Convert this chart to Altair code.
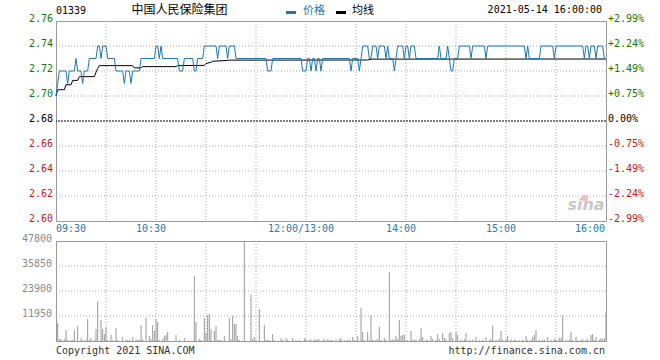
import altair as alt
import pandas as pd

PREV_CLOSE = 2.68

# ---- price (runs of equal price: start minute, price) ----
run_start = [0, 1, 2, 7, 8, 12, 13, 16, 17, 20, 25, 27, 28, 31, 36, 41, 42, 45, 46, 51,
             60, 62, 63, 64, 74, 77, 83, 85, 89, 97, 98, 103, 104, 108, 127, 130, 148, 151,
             153, 154, 156, 157, 159, 160, 177, 178, 182, 183, 184, 188, 190, 193, 194, 198,
             199, 200, 203, 204, 205, 209, 210, 212, 213, 216, 230, 231, 235, 236, 237, 239,
             242, 249, 250, 258, 259, 282, 283, 284, 291, 299, 300, 317, 318, 320, 321, 324,
             325, 329]
run_price = [2.70, 2.71, 2.72, 2.71, 2.72, 2.73, 2.72, 2.71, 2.72, 2.73, 2.74, 2.73, 2.74, 2.73,
             2.72, 2.71, 2.72, 2.71, 2.72, 2.73, 2.74, 2.73, 2.74, 2.73, 2.72, 2.73, 2.72, 2.73,
             2.74, 2.73, 2.74, 2.73, 2.74, 2.73, 2.72, 2.73, 2.72, 2.73, 2.72, 2.73, 2.72, 2.73,
             2.72, 2.73, 2.72, 2.73, 2.72, 2.73, 2.74, 2.73, 2.74, 2.73, 2.74, 2.73, 2.74, 2.73,
             2.72, 2.73, 2.74, 2.73, 2.74, 2.73, 2.74, 2.73, 2.74, 2.73, 2.74, 2.73, 2.72, 2.73,
             2.74, 2.73, 2.74, 2.73, 2.74, 2.73, 2.74, 2.73, 2.74, 2.73, 2.74, 2.73, 2.74, 2.73,
             2.74, 2.73, 2.74, 2.73]
LAST_MINUTE = 330

# ---- average price line ----
avg_minutes = [0, 1, 5, 6, 9, 10, 13, 14, 23, 24, 25, 26, 46, 47, 51, 52, 72, 73, 89, 90, 93,
               94, 103, 104, 187, 189, 330]
avg_values = [2.700, 2.705, 2.705, 2.709, 2.709, 2.7125, 2.7125, 2.7155, 2.7155, 2.719, 2.722,
              2.7243, 2.7243, 2.7225, 2.7225, 2.7235, 2.7235, 2.7243, 2.7245, 2.726, 2.727,
              2.7278, 2.7285, 2.7287, 2.7288, 2.7295, 2.7296]

# ---- volume ----
vol_minutes = [1, 2, 3, 5, 6, 7, 9, 10, 11, 13, 15, 16, 18, 19, 20, 21, 23, 24, 25, 27, 28, 29,
               30, 31, 33, 34, 36, 37, 40, 42, 43, 44, 46, 48, 49, 50, 51, 52, 54, 56, 57, 58,
               59, 60, 61, 62, 64, 65, 66, 67, 72, 74, 77, 83, 84, 86, 87, 89, 90, 91, 92, 93,
               95, 96, 97, 98, 99, 101, 104, 105, 106, 107, 108, 109, 110, 113, 117, 118, 119,
               120, 122, 125, 126, 127, 128, 130, 131, 135, 136, 138, 139, 142, 144, 146, 149,
               150, 152, 153, 155, 156, 157, 158, 160, 161, 163, 164, 165, 166, 168, 170, 171,
               173, 175, 176, 178, 179, 181, 183, 184, 185, 187, 188, 189, 190, 192, 193, 194,
               195, 197, 198, 200, 201, 202, 203, 204, 205, 206, 207, 208, 209, 211, 213, 214,
               215, 216, 218, 219, 220, 222, 223, 225, 226, 228, 229, 230, 232, 233, 234, 236,
               237, 238, 240, 241, 243, 245, 246, 248, 250, 252, 254, 256, 258, 260, 261, 262,
               264, 266, 267, 268, 270, 271, 273, 275, 276, 278, 280, 282, 283, 285, 286, 287,
               288, 290, 292, 293, 295, 297, 299, 300, 302, 303, 304, 306, 308, 309, 310, 312,
               313, 315, 316, 318, 319, 321, 322, 323, 324, 326, 327, 328, 329, 330]
vol_values = [8600, 950, 950, 900, 5300, 500, 500, 500, 5300, 7200, 1400, 500, 700, 10500, 500,
              1400, 500, 5700, 19100, 10000, 5700, 3300, 6700, 500, 2900, 500, 6200, 500, 1900,
              700, 500, 500, 1900, 700, 500, 500, 7600, 900, 11000, 2400, 900, 7600, 4800, 10500,
              9100, 500, 900, 2400, 2900, 4300, 2900, 500, 1400, 31100, 9100, 900, 500, 11000,
              3800, 12400, 12900, 5700, 4800, 7200, 500, 500, 500, 2400, 11000, 900, 12000, 8100,
              8100, 2400, 500, 47800, 22000, 900, 1900, 500, 15300, 7600, 500, 500, 500, 3300,
              500, 1400, 500, 1400, 500, 1400, 500, 500, 1400, 900, 700, 500, 700, 500, 900, 700,
              500, 900, 700, 500, 500, 500, 700, 900, 1400, 500, 700, 500, 1900, 500, 2400,
              15800, 4300, 500, 4300, 500, 12000, 700, 500, 900, 6700, 500, 1400, 500, 33000,
              500, 700, 500, 2400, 900, 10000, 2400, 2900, 2900, 500, 4800, 500, 700, 500, 900,
              6200, 1900, 500, 700, 2400, 900, 500, 3300, 900, 3800, 1400, 900, 3800, 4300, 1400,
              4300, 2900, 700, 900, 3800, 500, 700, 1900, 500, 700, 1900, 500, 900, 7200, 500,
              900, 4800, 500, 900, 2400, 900, 700, 500, 500, 700, 2400, 500, 500, 1900, 2900,
              5300, 700, 500, 700, 1900, 500, 900, 700, 1400, 1400, 12000, 500, 700, 4300, 500,
              1900, 500, 500, 900, 500, 900, 2900, 3300, 500, 1900, 700, 1400, 900, 1400, 13900]

# ---- ticks / labels ----
price_ticks = [2.76, 2.74, 2.72, 2.70, 2.68, 2.66, 2.64, 2.62, 2.60]
price_labels = ["2.76", "2.74", "2.72", "2.70", "2.68", "2.66", "2.64", "2.62", "2.60"]
pct_labels = ["+2.99%", "+2.24%", "+1.49%", "+0.75%", "0.00%", "-0.75%", "-1.49%", "-2.24%", "-2.99%"]
time_ticks = [0, 30, 60, 90, 120, 150, 180, 210, 240, 270, 300, 330]
time_label_minutes = [0, 60, 150, 210, 270, 330]
time_labels = ["09:30", "10:30", "12:00/13:00", "14:00", "15:00", "16:00"]
vol_ticks = [47800, 35850, 23900, 11950]
vol_labels = ["47800", "35850", "23900", "11950"]

MONO = "DejaVu Sans Mono"
CJK = "Noto Sans CJK SC"
BLUE = "#1f78b0"
LABEL_BLUE = "#2a7ab0"
GREEN = "#0a7a0a"
RED = "#c41818"
GRID = "#aaaaaa"

# ---- build tables ----
pv_m, pv_p = [], []
for i, s in enumerate(run_start):
    e = run_start[i + 1] - 1 if i + 1 < len(run_start) else LAST_MINUTE
    pv_m.append(s); pv_p.append(run_price[i])
    if e > s:
        pv_m.append(e); pv_p.append(run_price[i])
price_df = pd.DataFrame({"m": pv_m, "p": pv_p})
avg_df = pd.DataFrame({"m": avg_minutes, "p": avg_values})
vol_df = pd.DataFrame({"m": vol_minutes, "v": vol_values, "z": [0] * len(vol_minutes)})

def pcolor(p):
    if abs(p - PREV_CLOSE) < 1e-9:
        return "#000000"
    return GREEN if p > PREV_CLOSE else RED

lab_df = pd.DataFrame({
    "p": price_ticks, "lab": price_labels, "pct": pct_labels,
    "c": [pcolor(p) for p in price_ticks],
    "x0": [0] * len(price_ticks), "x1": [LAST_MINUTE] * len(price_ticks),
})
hgrid_df = pd.DataFrame({"p": [p for p in price_ticks if p not in (2.76, 2.60, PREV_CLOSE)]})
vgrid_df = pd.DataFrame({"m": time_ticks[1:-1]})
tl_df = pd.DataFrame({"m": time_label_minutes, "t": time_labels, "y": [2.60] * len(time_labels)})
vgrid_vol_df = pd.DataFrame({"v": vol_ticks[1:]})
vlab_df = pd.DataFrame({"v": vol_ticks, "t": vol_labels, "x0": [0] * len(vol_ticks)})

xs = alt.Scale(domain=[0, LAST_MINUTE], nice=False, zero=False)
ys = alt.Scale(domain=[2.60, 2.76], nice=False, zero=False)
vs = alt.Scale(domain=[0, 47800], nice=False, zero=False)

X = lambda f: alt.X(f, scale=xs, axis=None)
Y = lambda f: alt.Y(f, scale=ys, axis=None)
V = lambda f: alt.Y(f, scale=vs, axis=None)

one = pd.DataFrame({"k": [0]})

# ---- top panel ----
anchor = alt.Chart(one).mark_rect(fill="white").encode(
    x=alt.value(-55), x2=alt.value(-52), y=alt.value(-20), y2=alt.value(-17))
hgrid = alt.Chart(hgrid_df).mark_rule(color=GRID, strokeDash=[1, 2]).encode(y=Y("p:Q"))
vgrid = alt.Chart(vgrid_df).mark_rule(color=GRID, strokeDash=[1, 2]).encode(x=X("m:Q"))
prev = alt.Chart(pd.DataFrame({"p": [PREV_CLOSE]})).mark_rule(
    color="#000000", strokeDash=[2, 1]).encode(y=Y("p:Q"))
avg_line = alt.Chart(avg_df).mark_line(color="#000000", strokeWidth=1).encode(
    x=X("m:Q"), y=Y("p:Q"))
price_line = alt.Chart(price_df).mark_line(color=BLUE, strokeWidth=1).encode(
    x=X("m:Q"), y=Y("p:Q"))
left_lab = alt.Chart(lab_df).mark_text(align="right", baseline="middle", dx=-3, dy=-2,
                                       font=MONO, fontSize=10).encode(
    x=X("x0:Q"), y=Y("p:Q"), text="lab:N", color=alt.Color("c:N", scale=None))
right_lab = alt.Chart(lab_df).mark_text(align="left", baseline="middle", dx=2, dy=-2,
                                        font=MONO, fontSize=10).encode(
    x=X("x1:Q"), y=Y("p:Q"), text="pct:N", color=alt.Color("c:N", scale=None))
tl_common = dict(baseline="middle", dy=7.5, font=MONO, fontSize=10, color=LABEL_BLUE)
tl_left = alt.Chart(tl_df).transform_filter("datum.m == 0").mark_text(
    align="left", **tl_common).encode(x=X("m:Q"), y=Y("y:Q"), text="t:N")
tl_mid = alt.Chart(tl_df).transform_filter("datum.m > 0 && datum.m < 330").mark_text(
    align="center", dx=-5, **tl_common).encode(x=X("m:Q"), y=Y("y:Q"), text="t:N")
tl_right = alt.Chart(tl_df).transform_filter("datum.m == 330").mark_text(
    align="right", dx=-1, **tl_common).encode(x=X("m:Q"), y=Y("y:Q"), text="t:N")

code_txt = alt.Chart(one).mark_text(align="left", baseline="middle", font=MONO, fontSize=10,
                                    color="#000000", text="01339").encode(
    x=alt.value(0), y=alt.value(-10.5))
name_txt = alt.Chart(one).mark_text(align="center", baseline="middle", font=CJK, fontSize=12,
                                    color="#000000", text="中国人民保险集团").encode(
    x=alt.value(123.5), y=alt.value(-11.3))
leg1_dash = alt.Chart(one).mark_rule(color=BLUE, strokeWidth=3).encode(
    x=alt.value(230), x2=alt.value(240), y=alt.value(-8.5))
leg1_txt = alt.Chart(one).mark_text(align="left", baseline="middle", font=CJK, fontSize=11,
                                    color=LABEL_BLUE, text="价格").encode(
    x=alt.value(247), y=alt.value(-10.5))
leg2_dash = alt.Chart(one).mark_rule(color="#000000", strokeWidth=3).encode(
    x=alt.value(280), x2=alt.value(290), y=alt.value(-8.5))
leg2_txt = alt.Chart(one).mark_text(align="left", baseline="middle", font=CJK, fontSize=11,
                                    color="#000000", text="均线").encode(
    x=alt.value(296), y=alt.value(-10.5))
date_txt = alt.Chart(one).mark_text(align="right", baseline="middle", font=MONO, fontSize=10,
                                    color="#000000", text="2021-05-14 16:00:00").encode(
    x=alt.value(546), y=alt.value(-11))
logo_eye = alt.Chart(one).mark_point(shape="circle", size=45, filled=True, color="#f3b8b8",
                                     opacity=0.9).encode(x=alt.value(529), y=alt.value(177))
logo_txt = alt.Chart(one).mark_text(align="center", baseline="middle", font="DejaVu Sans",
                                    fontSize=16, fontStyle="italic", fontWeight="bold",
                                    color="#c8c8c8", text="sina").encode(
    x=alt.value(530), y=alt.value(184))

top = alt.layer(anchor, hgrid, vgrid, logo_eye, logo_txt, prev, avg_line, price_line,
                left_lab, right_lab, tl_left, tl_mid, tl_right, code_txt, name_txt,
                leg1_dash, leg1_txt, leg2_dash, leg2_txt, date_txt).properties(
    width=550, height=200)

# ---- volume panel ----
vhgrid = alt.Chart(vgrid_vol_df).mark_rule(color=GRID, strokeDash=[1, 2]).encode(y=V("v:Q"))
vvgrid = alt.Chart(vgrid_df).mark_rule(color=GRID, strokeDash=[1, 2]).encode(x=X("m:Q"))
bars = alt.Chart(vol_df).mark_rule(color="#999999", strokeWidth=1).encode(
    x=X("m:Q"), y=V("v:Q"), y2="z:Q")
vlab = alt.Chart(vlab_df).mark_text(align="right", baseline="middle", dx=-4, dy=-2.5,
                                    font=MONO, fontSize=10, color="#8a8a8a").encode(
    x=X("x0:Q"), y=V("v:Q"), text="t:N")
copy_txt = alt.Chart(one).mark_text(align="left", baseline="middle", font=MONO, fontSize=10,
                                    color="#333333", text="Copyright 2021 SINA.COM").encode(
    x=alt.value(0), y=alt.value(109.5))
url_txt = alt.Chart(one).mark_text(align="right", baseline="middle", font=MONO, fontSize=10,
                                   color="#333333", text="http://finance.sina.com.cn").encode(
    x=alt.value(549), y=alt.value(109.5))

bottom = alt.layer(vhgrid, vvgrid, bars, vlab, copy_txt, url_txt).properties(
    width=550, height=100)

chart = alt.vconcat(top, bottom, spacing=20, bounds="flush").properties(
    padding=0).configure_view(stroke="#999999", strokeWidth=1)

chart.save("out.html", embed_options={"renderer": "svg", "actions": False})
